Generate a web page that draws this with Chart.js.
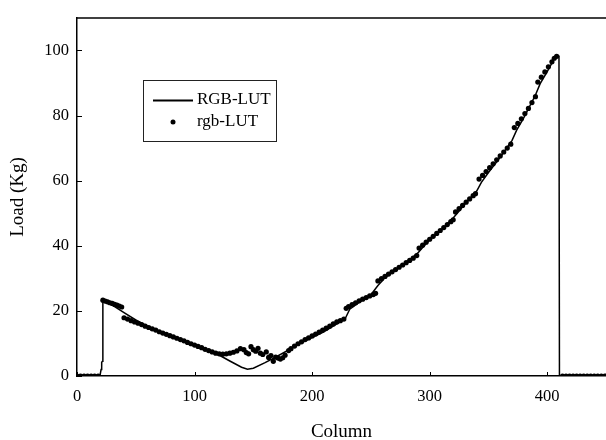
<!DOCTYPE html>
<html>
<head>
<meta charset="utf-8">
<script src="https://cdn.jsdelivr.net/npm/chart.js@4.4.0/dist/chart.umd.min.js"></script>
<style>
  html, body { margin: 0; padding: 0; background: #fff; overflow: hidden; }
  canvas { display: block; }
</style>
</head>
<body>
<canvas id="myChart" width="610" height="440"></canvas>
<script>
// tick labels
const xTicks = [0, 100, 200, 300, 400];
const yTicks = [0, 20, 40, 60, 80, 100];

// RGB-LUT (solid line)
const lineX = [0, 19.5, 20.5, 21, 21.7, 22, 30, 40, 50, 60, 70, 80, 90, 100, 110, 120, 130, 140, 145,
  150, 160, 170, 180, 190, 200, 210, 220, 228, 232, 240, 250, 256, 262, 270, 280, 290, 294, 300, 310,
  320, 324, 330, 340, 344, 350, 360, 370, 374, 380, 390, 394, 400, 405, 408, 409.6, 410, 410.4, 450];
const lineY = [0, 0, 2, 4.2, 4.5, 23.5, 21.8, 19.5, 17.2, 15.3, 13.8, 12.3, 10.9, 9.4, 8, 6.6, 4.6, 2.7, 2.1,
  2.4, 4.1, 6, 8, 10, 11.8, 13.6, 15.8, 17.5, 20.5, 22.6, 25, 27.8, 30.2, 32.3, 34.8, 37.8, 39.5, 41.8, 45,
  48.5, 50.2, 52.8, 56.8, 59.5, 62.5, 67.2, 72.3, 75.5, 79.3, 86.3, 89.8, 93.5, 96.8, 98.3, 98.4, 97.8, 0, 0];

// rgb-LUT (dots)
const dotX = [0, 3, 6, 9, 12, 15, 18,
  22, 24, 26, 28, 30, 32, 34, 36, 38,
  40, 43, 46, 49, 52, 55, 58, 61, 64, 67, 70, 73, 76, 79, 82, 85, 88, 91, 94, 97, 100, 103, 106, 109, 112, 115, 118,
  121, 124, 127, 130, 133, 136, 139, 142, 144, 146, 148, 150, 152, 154, 156, 158, 161, 163, 165, 167, 169, 171, 173, 175, 177,
  180, 182, 185, 188, 191, 194, 197, 200, 203, 206, 209, 212, 215, 218, 221, 224, 227,
  229, 231, 234, 237, 240, 243, 246, 249, 252, 254,
  256, 259, 262, 265, 268, 271, 274, 277, 280, 283, 286, 289,
  291, 294, 297, 300, 303, 306, 309, 312, 315, 318, 320,
  322, 325, 328, 331, 334, 337, 339,
  342, 345, 348, 351, 354, 357, 360, 363, 366, 369,
  372, 375, 378, 381, 384, 387, 390,
  392, 395, 398, 401, 404, 406, 408,
  413, 416, 419, 422, 425, 428, 431, 434, 437, 440, 443, 446, 449];
const dotY = [0, 0, 0, 0, 0, 0, 0,
  23.3, 23, 22.8, 22.5, 22.3, 22, 21.8, 21.5, 21.2,
  17.9, 17.5, 17, 16.6, 16.2, 15.8, 15.3, 14.9, 14.5, 14.1, 13.6, 13.2, 12.8, 12.4, 12, 11.6, 11.2, 10.8, 10.3, 9.9, 9.5, 9.1, 8.7, 8.2, 7.8, 7.4, 7,
  6.8, 6.7, 6.8, 7, 7.3, 7.7, 8.4, 8.1, 7.2, 6.8, 9, 8.1, 7.6, 8.5, 7, 6.6, 7.4, 5.7, 6.3, 4.5, 5.8, 5.5, 5.2, 5.6, 6.4,
  7.8, 8.4, 9.2, 9.9, 10.5, 11.2, 11.7, 12.3, 12.9, 13.5, 14.1, 14.7, 15.3, 16, 16.6, 17, 17.5,
  20.8, 21.3, 21.9, 22.5, 23.1, 23.6, 24.1, 24.6, 25, 25.4,
  29.2, 29.9, 30.6, 31.3, 32, 32.7, 33.4, 34.1, 34.8, 35.5, 36.2, 37,
  39.3, 40.2, 41.1, 42, 42.9, 43.8, 44.7, 45.6, 46.5, 47.4, 48,
  50.4, 51.4, 52.4, 53.4, 54.4, 55.4, 56,
  60.5, 61.6, 62.8, 64, 65.2, 66.4, 67.6, 68.8, 70, 71.2,
  76.3, 77.6, 79, 80.6, 82.2, 84, 85.8,
  90.3, 91.8, 93.4, 95, 96.5, 97.6, 98.2,
  0, 0, 0, 0, 0, 0, 0, 0, 0, 0, 0, 0, 0];

const serif = "'Liberation Serif', 'Times New Roman', serif";

// frame top line, inward tick marks and the boxed legend
const framePlugin = {
  id: "frame",
  afterDraw: (chart) => {
    const c = chart.ctx;
    const area = chart.chartArea;
    const xs = chart.scales.x;
    const ys = chart.scales.y;
    c.save();
    c.strokeStyle = "#000";
    c.lineWidth = 1.5;
    c.beginPath();
    c.moveTo(area.left, area.top);
    c.lineTo(area.right, area.top);
    c.stroke();

    c.lineWidth = 1;
    xTicks.forEach((v) => {
      const px = Math.round(xs.getPixelForValue(v)) + 0.5;
      c.beginPath();
      c.moveTo(px, area.bottom);
      c.lineTo(px, area.bottom - 4);
      c.stroke();
    });
    yTicks.forEach((v) => {
      const py = Math.round(ys.getPixelForValue(v)) + 0.5;
      c.beginPath();
      c.moveTo(area.left, py);
      c.lineTo(area.left + 5, py);
      c.stroke();
    });

    // legend box
    const ds = chart.data.datasets;
    c.lineWidth = 1;
    c.strokeStyle = "#222";
    c.strokeRect(143.5, 80.5, 133, 61);
    c.lineWidth = 2;
    c.strokeStyle = "#000";
    c.beginPath();
    c.moveTo(153, 100.5);
    c.lineTo(193, 100.5);
    c.stroke();
    c.fillStyle = "#000";
    c.beginPath();
    c.arc(173, 122, 2.5, 0, Math.PI * 2);
    c.fill();
    c.font = "17px " + serif;
    c.textBaseline = "middle";
    c.textAlign = "left";
    c.fillText(ds[0].label, 197, 100);
    c.fillText(ds[1].label, 197, 122);
    c.restore();
  },
};

const ctx = document.getElementById("myChart");
const myChart = new Chart(ctx, {
  type: "scatter",
  data: {
    datasets: [
      {
        label: "RGB-LUT",
        data: lineX.map((x, i) => ({ x: x, y: lineY[i] })),
        showLine: true,
        borderColor: "#000",
        borderWidth: 1.5,
        pointRadius: 0,
        tension: 0,
        fill: false,
      },
      {
        label: "rgb-LUT",
        data: dotX.map((x, i) => ({ x: x, y: dotY[i] })),
        showLine: false,
        pointRadius: 2.6,
        pointBorderWidth: 0,
        backgroundColor: "#000",
        borderColor: "#000",
      },
    ],
  },
  options: {
    responsive: false,
    animation: false,
    devicePixelRatio: 1,
    layout: { padding: { top: 10, left: 0, right: 0, bottom: 0 } },
    plugins: {
      legend: { display: false },
      tooltip: { enabled: false },
    },
    scales: {
      x: {
        type: "linear",
        min: 0,
        max: 450,
        afterBuildTicks: (s) => {
          s.ticks = xTicks.map((v) => ({ value: v }));
        },
        afterFit: (s) => {
          s.height = 64;
        },
        ticks: { padding: 11, color: "#000", maxRotation: 0, font: { family: serif, size: 16.5 } },
        grid: { display: true, drawOnChartArea: false, drawTicks: false },
        border: { display: true, color: "#000", width: 1.5 },
        title: {
          display: true,
          text: "Column",
          color: "#000",
          font: { family: serif, size: 19 },
          padding: { top: 0, bottom: -3 },
        },
      },
      y: {
        type: "linear",
        min: 0,
        max: 110,
        afterBuildTicks: (s) => {
          s.ticks = yTicks.map((v) => ({ value: v }));
        },
        afterFit: (s) => {
          s.width = 77;
        },
        ticks: { padding: 8, color: "#000", font: { family: serif, size: 16.5 } },
        grid: { display: true, drawOnChartArea: false, drawTicks: false },
        border: { display: true, color: "#000", width: 1.5 },
        title: {
          display: true,
          text: "Load (Kg)",
          color: "#000",
          font: { family: serif, size: 19 },
          padding: { top: 7, bottom: 0 },
        },
      },
    },
  },
  plugins: [framePlugin],
});
</script>
</body>
</html>
